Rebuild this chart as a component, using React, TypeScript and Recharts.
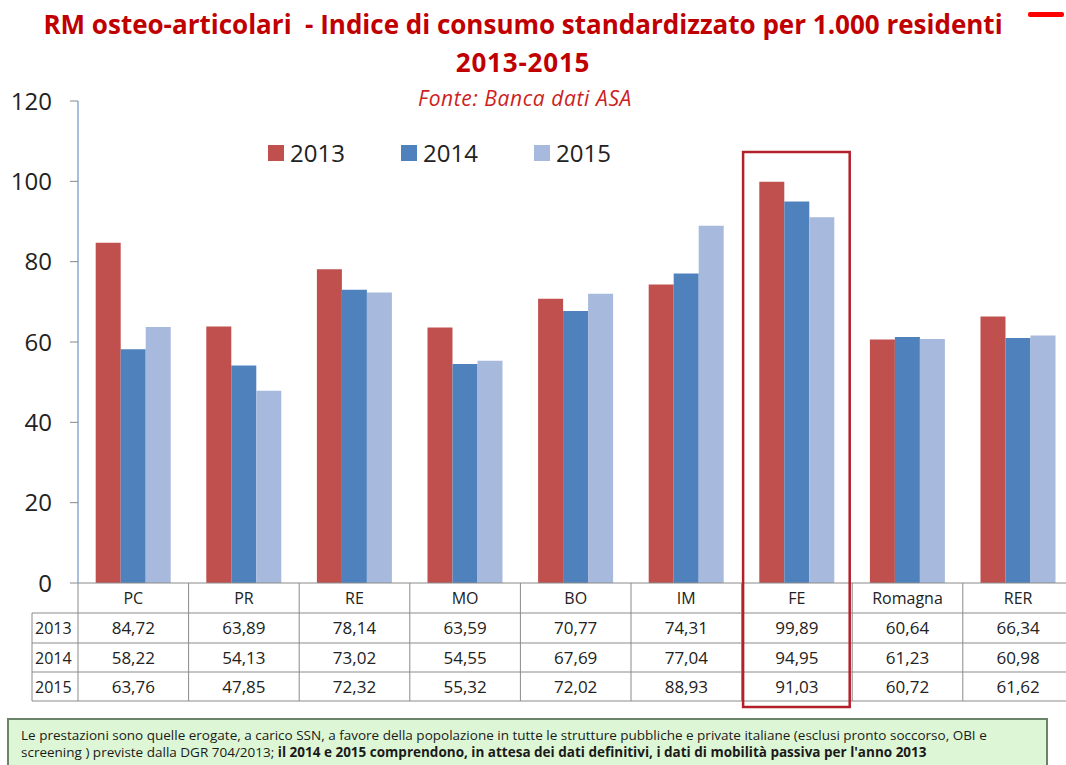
import React from 'react';
import { BarChart, Bar, XAxis, YAxis, Legend } from 'recharts';

const categories = ['PC', 'PR', 'RE', 'MO', 'BO', 'IM', 'FE', 'Romagna', 'RER'];
const years = ['2013', '2014', '2015'];
const values2013 = [84.72, 63.89, 78.14, 63.59, 70.77, 74.31, 99.89, 60.64, 66.34];
const values2014 = [58.22, 54.13, 73.02, 54.55, 67.69, 77.04, 94.95, 61.23, 60.98];
const values2015 = [63.76, 47.85, 72.32, 55.32, 72.02, 88.93, 91.03, 60.72, 61.62];
const yTicks = [0, 20, 40, 60, 80, 100, 120];
const highlighted = 'FE';

const seriesColors = ['#C0504D', '#4F81BD', '#A7B9DC'];

const data = categories.map((c, i) => ({
  name: c,
  y2013: values2013[i],
  y2014: values2014[i],
  y2015: values2015[i],
}));
const rows = [values2013, values2014, values2015];

// layout
const CHART_W = 1080;
const PLOT_LEFT = 78;
const PLOT_RIGHT = 1073.4;
const BAND = (PLOT_RIGHT - PLOT_LEFT) / categories.length;
const TABLE_LEFT = 32;
const ROW_H = [30, 30, 29, 29];
const FONT = '"Open Sans", "DejaVu Sans", sans-serif';
const GRID = '#8a8a8a';

const fmt = (v: number) => v.toFixed(2).replace('.', ',');

const TableTick = (props: any) => {
  const { x, y, payload } = props;
  const idx: number = payload.index;
  const left = x - BAND / 2;
  const right = x + BAND / 2;
  const lineYs: number[] = [];
  let acc = 0;
  ROW_H.forEach((h) => {
    acc += h;
    lineYs.push(y + acc);
  });
  const bottom = y + acc;
  return (
    <g>
      {idx === 0 && (
        <g>
          <line x1={left} x2={left} y1={y} y2={bottom} stroke={GRID} strokeWidth={1} />
          <line x1={TABLE_LEFT} x2={TABLE_LEFT} y1={lineYs[0]} y2={bottom} stroke={GRID} strokeWidth={1} />
          {lineYs.map((ly, k) => (
            <line key={k} x1={TABLE_LEFT} x2={left} y1={ly} y2={ly} stroke={GRID} strokeWidth={1} />
          ))}
          {years.map((yr, k) => (
            <text key={yr} x={TABLE_LEFT + 3} y={(lineYs[k] + lineYs[k + 1]) / 2 + 6} fontSize={16} fill="#222" fontFamily={FONT}>
              {yr}
            </text>
          ))}
        </g>
      )}
      <line x1={right} x2={right} y1={y} y2={bottom} stroke={GRID} strokeWidth={1} />
      {lineYs.map((ly, k) => (
        <line key={k} x1={left} x2={right} y1={ly} y2={ly} stroke={GRID} strokeWidth={1} />
      ))}
      <text x={x} y={y + ROW_H[0] / 2 + 6} textAnchor="middle" fontSize={16} fill="#222" fontFamily={FONT}>
        {payload.value}
      </text>
      {rows.map((r, k) => (
        <text key={k} x={x} y={(lineYs[k] + lineYs[k + 1]) / 2 + 6} textAnchor="middle" fontSize={17} fill="#222" fontFamily={FONT}>
          {fmt(r[idx])}
        </text>
      ))}
      {payload.value === highlighted && (
        <rect x={left + 1.5} y={152} width={BAND - 4} height={bottom + 6 - 152} fill="none" stroke="#B3202A" strokeWidth={2.5} />
      )}
    </g>
  );
};

const LegendContent = (props: any) => {
  const { payload } = props;
  return (
    <div style={{ display: 'flex', fontFamily: FONT }}>
      {(payload || []).map((p: any) => (
        <div key={p.value} style={{ display: 'flex', alignItems: 'center', width: 133 }}>
          <div style={{ width: 16, height: 16, background: p.color, marginRight: 6 }} />
          <span style={{ fontSize: 24, color: '#222', lineHeight: '30px' }}>{p.value}</span>
        </div>
      ))}
    </div>
  );
};

export default function App() {
  return (
    <div style={{ position: 'absolute', left: 0, top: 0, width: 1066, height: 765, overflow: 'hidden', background: '#fff' }}>
      <div style={{ position: 'absolute', left: 0, top: 5, width: 1046, textAlign: 'center', color: '#C00000', fontFamily: FONT, fontWeight: 700, fontSize: 26, lineHeight: '38px' }}>
        <div>RM osteo-articolari&nbsp; - Indice di consumo standardizzato per 1.000 residenti</div>
        <div style={{ letterSpacing: 0.8 }}>2013-2015</div>
      </div>
      <div style={{ position: 'absolute', left: 0, top: 85, width: 1050, textAlign: 'center', color: '#CC1F1F', fontFamily: FONT, fontStyle: 'italic', fontSize: 21, letterSpacing: 0.6, lineHeight: '26px' }}>
        Fonte: Banca dati ASA
      </div>
      <div style={{ position: 'absolute', left: 1028, top: 12, width: 36, height: 5, background: '#FF0000', borderRadius: 2 }} />
      <BarChart
        width={CHART_W}
        height={765}
        data={data}
        margin={{ top: 101, right: CHART_W - PLOT_RIGHT, bottom: 64, left: 0 }}
        barCategoryGap="16%"
        barGap={0}
      >
        <XAxis
          dataKey="name"
          height={118}
          tick={<TableTick />}
          tickLine={false}
          tickSize={0}
          tickMargin={0}
          axisLine={{ stroke: GRID, strokeWidth: 1 }}
          interval={0}
        />
        <YAxis
          width={PLOT_LEFT}
          domain={[0, 120]}
          ticks={yTicks}
          tickSize={8}
          tickMargin={18}
          tickLine={{ stroke: '#888' }}
          axisLine={{ stroke: '#8EA8D2', strokeWidth: 1.5 }}
          tick={{ fontSize: 24, fill: '#222', fontFamily: FONT }}
        />
        <Legend
          layout="horizontal"
          verticalAlign="middle"
          align="center"
          wrapperStyle={{ top: 138, left: 268, width: 420 }}
          content={<LegendContent />}
        />
        <Bar dataKey="y2013" name="2013" fill={seriesColors[0]} isAnimationActive={false} />
        <Bar dataKey="y2014" name="2014" fill={seriesColors[1]} isAnimationActive={false} />
        <Bar dataKey="y2015" name="2015" fill={seriesColors[2]} isAnimationActive={false} />
      </BarChart>
      <div style={{ position: 'absolute', left: 7, top: 718, width: 1041, height: 54, border: '2px solid #6A846A', background: '#DDF6D5', fontFamily: FONT, fontSize: 13.5, lineHeight: '17px', color: '#1a1a1a', padding: '7px 0 0 12px', boxSizing: 'border-box', whiteSpace: 'nowrap' }}>
        Le prestazioni sono quelle erogate, a carico SSN, a favore della popolazione in tutte le strutture pubbliche e private italiane (esclusi pronto soccorso, OBI e
        <br />
        screening ) previste dalla DGR 704/2013; <b>il 2014 e 2015 comprendono, in attesa dei dati definitivi, i dati di mobilità passiva per l'anno 2013</b>
      </div>
    </div>
  );
}
